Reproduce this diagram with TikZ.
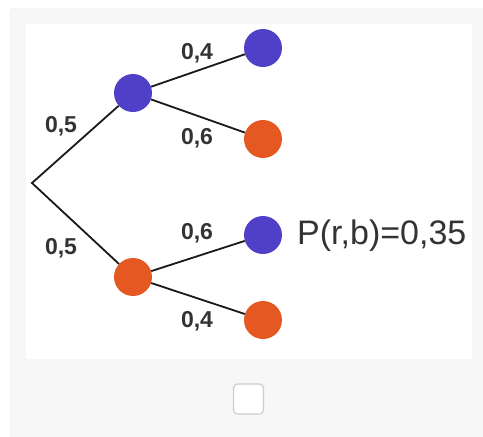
\documentclass[tikz,border=0pt]{standalone}
\usepackage{fontspec}
\setmainfont{Liberation Sans}
\definecolor{panelgray}{RGB}{247,247,247}
\definecolor{panelborder}{RGB}{236,236,236}
\definecolor{dotblue}{RGB}{80,64,200}
\definecolor{dotorange}{RGB}{229,88,34}
\definecolor{labelgray}{RGB}{51,51,51}
\definecolor{boxborder}{RGB}{204,204,204}
\tikzset{
  dot/.style={circle, minimum width=38pt, minimum height=37pt, inner sep=0pt},
  bluedot/.style={dot, fill=dotblue},
  orangedot/.style={dot, fill=dotorange},
  branch/.style={draw=black!90, line width=1.8pt},
  prob/.style={font=\fontsize{23}{23}\selectfont\bfseries, text=labelgray, inner sep=0pt}
}
\begin{document}
\begin{tikzpicture}[x=1pt,y=-1pt]
\useasboundingbox (0,0) rectangle (483,437);
\clip (0,0) rectangle (483,437);
\fill[white] (0,0) rectangle (483,437);
\draw[fill=panelgray, draw=panelborder, rounded corners=5pt] (10,8) rectangle (495,450);
\fill[white] (26,24) rectangle (472,359);
\coordinate (root) at (32,183);
\node[bluedot] (a) at (133,93) {};
\node[orangedot] (b) at (133,277) {};
\node[bluedot] (aa) at (263,48) {};
\node[orangedot] (ab) at (263,139) {};
\node[bluedot] (ba) at (263,235) {};
\node[orangedot] (bb) at (263,320) {};
\draw[branch] (a) -- (root) -- (b);
\draw[branch] (a) -- (aa);
\draw[branch] (a) -- (ab);
\draw[branch] (b) -- (ba);
\draw[branch] (b) -- (bb);
\node[prob] (l1) at (61,126) {0,5};
\node[prob] (l2) at (61,248) {0,5};
\node[prob] (l3) at (197,53) {0,4};
\node[prob] (l4) at (197,138) {0,6};
\node[prob] (l5) at (197,233) {0,6};
\node[prob] (l6) at (197,321) {0,4};
\node[font=\fontsize{34}{34}\selectfont, text=labelgray, anchor=west, inner sep=0pt] (res) at (297,236) {P(r,b)=0,35};
\node[draw=boxborder, fill=white, line width=1.2pt, rounded corners=4pt, minimum width=30pt, minimum height=30pt, inner sep=0pt] (chk) at (248.5,399) {};
\end{tikzpicture}
\end{document}
